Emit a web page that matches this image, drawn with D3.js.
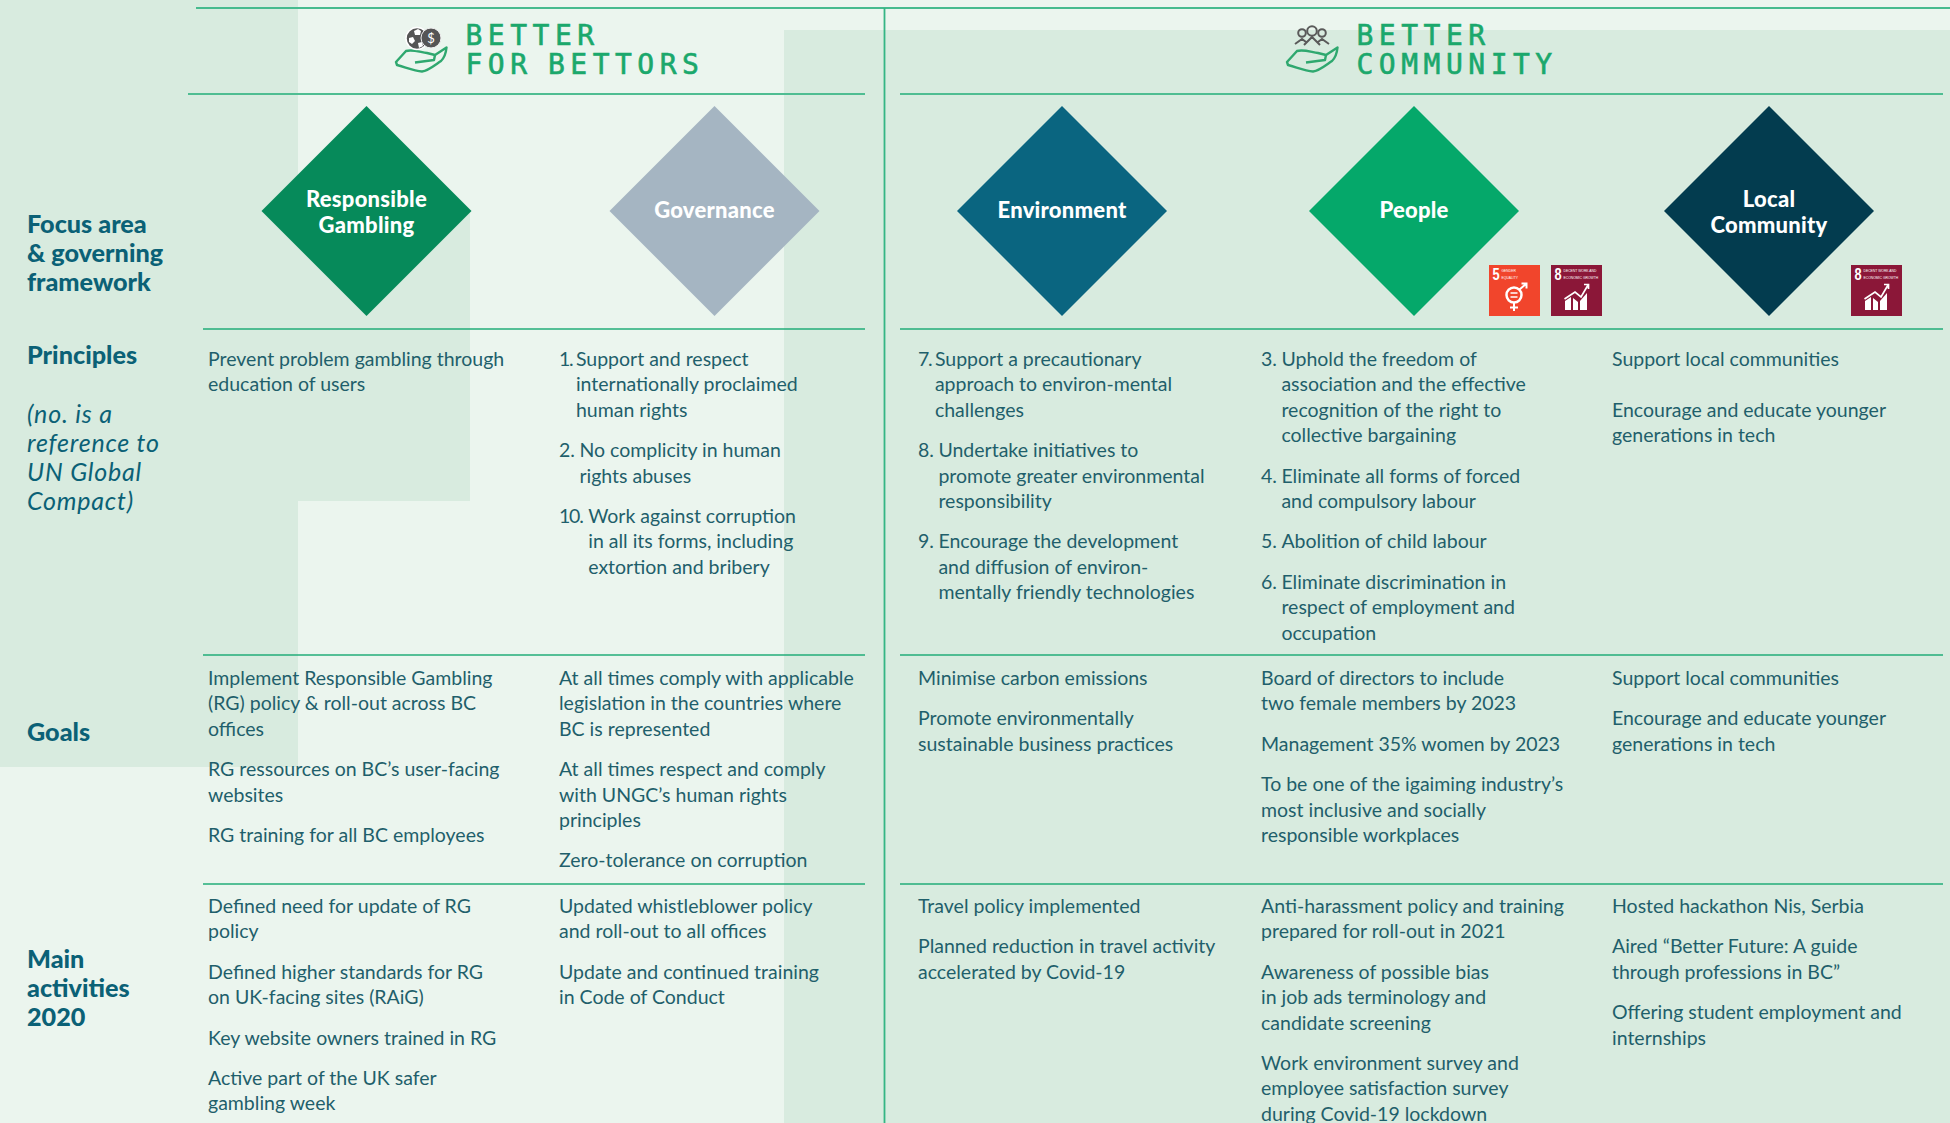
<!DOCTYPE html>
<html>
<head>
<meta charset="utf-8">
<script src="https://d3js.org/d3.v7.min.js"></script>
<style>
html, body { margin: 0; padding: 0; background: #ebf5ee; overflow: hidden; }
svg { display: block; }
text { font-family: Lato, "Open Sans", sans-serif; }
.cell { font-size: 19.5px; fill: #1f5f6b; }
.rowhead { font-size: 25.2px; font-weight: 900; fill: #0b6176; }
.rownote { font-size: 25px; font-style: italic; fill: #0b6176; letter-spacing: 0.8px; }
.dtext { font-size: 22px; font-weight: 900; fill: #fff; text-anchor: middle; letter-spacing: 0.25px; }
.title { font-family: "DejaVu Sans Mono", monospace; font-size: 28px; fill: #1ba86c; stroke: #1ba86c; stroke-width: 0.6px; letter-spacing: 5.5px; word-spacing: -7px; }
.sdg { font-family: "Liberation Sans", sans-serif; fill: #fff; }
</style>
</head>
<body>
<svg id="chart" width="1950" height="1123"></svg>
<script>
const columns = ["Responsible Gambling", "Governance", "Environment", "People", "Local Community"];
const focusColors = ["#068a5a", "#a5b5c2", "#0a6580", "#05a86a", "#033c4f"];

const rowHeads = [
  ["Focus area", "& governing", "framework"],
  ["Principles"],
  ["Goals"],
  ["Main", "activities", "2020"]
];
const rowNote = ["(no. is a", "reference to", "UN Global", "Compact)"];

// each cell: list of paragraphs, each paragraph a list of lines
const principles = [
  [["Prevent problem gambling through", "education of users"]],
  [["1. Support and respect", "internationally proclaimed", "human rights"],
   ["2. No complicity in human", "rights abuses"],
   ["10. Work against corruption", "in all its forms, including", "extortion and bribery"]],
  [["7. Support a precautionary", "approach to environ-mental", "challenges"],
   ["8. Undertake initiatives to", "promote greater environmental", "responsibility"],
   ["9. Encourage the development", "and diffusion of environ-", "mentally friendly technologies"]],
  [["3. Uphold the freedom of", "association and the effective", "recognition of the right to", "collective bargaining"],
   ["4. Eliminate all forms of forced", "and compulsory labour"],
   ["5. Abolition of child labour"],
   ["6. Eliminate discrimination in", "respect of employment and", "occupation"]],
  [["Support local communities", "", "Encourage and educate younger", "generations in tech"]]
];
const goals = [
  [["Implement Responsible Gambling", "(RG) policy & roll-out across BC", "offices"],
   ["RG ressources on BC\u2019s user-facing", "websites"],
   ["RG training for all BC employees"]],
  [["At all times comply with applicable", "legislation in the countries where", "BC is represented"],
   ["At all times respect and comply", "with UNGC\u2019s human rights", "principles"],
   ["Zero-tolerance on corruption"]],
  [["Minimise carbon emissions"],
   ["Promote environmentally", "sustainable business practices"]],
  [["Board of directors to include", "two female members by 2023"],
   ["Management 35% women by 2023"],
   ["To be one of the igaiming industry\u2019s", "most inclusive and socially", "responsible workplaces"]],
  [["Support local communities"],
   ["Encourage and educate younger", "generations in tech"]]
];
const activities = [
  [["Defined need for update of RG", "policy"],
   ["Defined higher standards for RG", "on UK-facing sites (RAiG)"],
   ["Key website owners trained in RG"],
   ["Active part of the UK safer", "gambling week"]],
  [["Updated whistleblower policy", "and roll-out to all offices"],
   ["Update and continued training", "in Code of Conduct"]],
  [["Travel policy implemented"],
   ["Planned reduction in travel activity", "accelerated by Covid-19"]],
  [["Anti-harassment policy and training", "prepared for roll-out in 2021"],
   ["Awareness of possible bias", "in job ads terminology and", "candidate screening"],
   ["Work environment survey and", "employee satisfaction survey", "during Covid-19 lockdown"]],
  [["Hosted hackathon Nis, Serbia"],
   ["Aired \u201cBetter Future: A guide", "through professions in BC\u201d"],
   ["Offering student employment and", "internships"]]
];

const svg = d3.select("#chart");
const dark = "#d8ebdf";

// background blocks
const bg = svg.append("g");
[[0, 0, 298, 767], [298, 211, 172, 290], [784, 30, 1166, 1093]].forEach(b => {
  bg.append("rect").attr("x", b[0]).attr("y", b[1]).attr("width", b[2]).attr("height", b[3]).attr("fill", dark);
});

// column layout
const colX = d3.scaleOrdinal().domain(columns).range([208, 559, 918, 1261, 1612]);
const diamondX = d3.scaleOrdinal().domain(columns).range([366.5, 714.5, 1062, 1414, 1769]);
const diamondFill = d3.scaleOrdinal().domain(columns).range(focusColors);

// rules
const rules = svg.append("g");
const hline = (x1, x2, y, color, w) => rules.append("line").attr("x1", x1).attr("x2", x2).attr("y1", y).attr("y2", y)
  .attr("stroke", color).attr("stroke-width", w);
hline(196, 1950, 8, "#46bb8e", 1.8);
[[188, 865], [900, 1943]].forEach(r => {
  hline(r[0], r[1], 94, "#4fbd92", 1.8);
});
[[203, 865], [900, 1943]].forEach(r => {
  [329, 655, 884].forEach(y => hline(r[0], r[1], y, "#22ad78", 1.4));
});
rules.append("line").attr("x1", 884.5).attr("x2", 884.5).attr("y1", 8).attr("y2", 1123)
  .attr("stroke", "#35b584").attr("stroke-width", 1.8);

// titles
function title(x, lines) {
  svg.append("g").selectAll("text").data(lines).join("text")
    .attr("class", "title").attr("x", x).attr("y", (d, i) => 45 + i * 29).text(d => d);
}
title(465.5, ["BETTER", "FOR BETTORS"]);
title(1356.5, ["BETTER", "COMMUNITY"]);

// hand icons
function hand(dx) {
  const g = svg.append("g").attr("transform", `translate(${dx},0)`)
    .attr("fill", "none").attr("stroke", "#2fa86f").attr("stroke-width", 2.4).attr("stroke-linejoin", "round");
  g.append("path").attr("d", "M396 62 L406 51 C412 49 420 52 427 53 L435 55 L446.5 47.5 C446 53 444 58 441 61 C435 65 428 71 422 71.5 C414 71 405 67 397 65 Z");
  g.append("path").attr("d", "M415 62.5 L434 60 L435 55");
}
hand(0); hand(891);

// coins
svg.append("circle").attr("cx", 417).attr("cy", 38.5).attr("r", 11).attr("fill", "#555").attr("stroke", "#fff").attr("stroke-width", 1.5);
svg.append("g").attr("fill", "#fff").selectAll("path")
  .data(["M414 31 l4 -2 l3 2 l-1 4 l-5 0 Z", "M409 38 l4 -1 l2 4 l-3 3 l-3 -2 Z", "M418 43 l4 -1 l1 4 l-4 2 Z"])
  .join("path").attr("d", d => d);
svg.append("circle").attr("cx", 431).attr("cy", 38).attr("r", 10).attr("fill", "#555").attr("stroke", "#eee").attr("stroke-width", 1);
svg.append("text").attr("x", 431).attr("y", 43).attr("text-anchor", "middle").attr("font-size", 13).attr("fill", "#fff").text("$");

// people
const people = svg.append("g").attr("fill", "none").attr("stroke", "#5a5a5a").attr("stroke-width", 2);
[[1302, 33, 3.8], [1322, 33, 3.8], [1312, 31, 4.8]].forEach(p => {
  people.append("circle").attr("cx", p[0]).attr("cy", p[1]).attr("r", p[2]);
});
people.append("path").attr("d", "M1295 44 L1302 39 L1306 42 M1329 44 L1322 39 L1318 42 M1304 45 L1312 37 L1320 45");

// diamonds
const dg = svg.append("g").selectAll("g").data(columns).join("g")
  .attr("transform", d => `translate(${diamondX(d)},211)`);
dg.append("path").attr("d", "M0 -105 L105 0 L0 105 L-105 0 Z").attr("fill", d => diamondFill(d));
dg.append("text").attr("class", "dtext").attr("y", 7).each(function (d) {
  const parts = d.split(" ");
  d3.select(this).selectAll("tspan").data(parts).join("tspan")
    .attr("x", 0).attr("y", (p, i) => parts.length === 1 ? 7 : -4 + i * 26).text(p => p);
});

// SDG tiles
function tile(x, color, num, label) {
  const g = svg.append("g").attr("transform", `translate(${x},265)`);
  g.append("rect").attr("width", 51).attr("height", 51).attr("fill", color);
  g.append("text").attr("class", "sdg").attr("transform", "translate(3.5,15) scale(0.8,1)")
    .attr("font-size", 16).attr("font-weight", 700).text(num);
  g.append("g").attr("transform", "translate(12.5,0) scale(0.8,1)")
    .selectAll("text").data(label).join("text").attr("class", "sdg")
    .attr("y", (d, i) => 7.5 + i * 6.4).attr("font-size", 4.2).text(d => d);
  return g;
}
const t5 = tile(1489, "#f1452c", "5", ["GENDER", "EQUALITY"]);
t5.append("circle").attr("cx", 25).attr("cy", 30).attr("r", 7.5).attr("fill", "none").attr("stroke", "#fff").attr("stroke-width", 2.5);
t5.append("path").attr("d", "M25 38 V46 M21 42.5 H29 M30.5 24.5 L37 19 M32.5 18.5 H37.5 V23.5").attr("fill", "none").attr("stroke", "#fff").attr("stroke-width", 2);
t5.append("path").attr("d", "M21.5 28 H28.5 M21.5 32 H28.5").attr("stroke", "#fff").attr("stroke-width", 1.6);
[1551, 1851].forEach(x => {
  const t8 = tile(x, "#8b1738", "8", ["DECENT WORK AND", "ECONOMIC GROWTH"]);
  t8.append("path").attr("d", "M14 45 V36 L20 32 V45 Z M22 45 V33 L27 37 V45 Z M29 45 V36 L36 28 V45 Z").attr("fill", "#fff");
  t8.append("path").attr("d", "M13.5 34 L24 27 L30 32 L37 20 M33 19.5 H37.5 V24").attr("fill", "none").attr("stroke", "#fff").attr("stroke-width", 1.7);
});

// row heads
const headY = [232.5, 363.5, 740.5, 967.5];
const headG = svg.append("g");
rowHeads.forEach((lines, r) => {
  headG.append("g").selectAll("text").data(lines).join("text")
    .attr("class", "rowhead").attr("x", 27).attr("y", (d, i) => headY[r] + i * 29.4).text(d => d);
});
headG.append("g").selectAll("text").data(rowNote).join("text")
  .attr("class", "rownote").attr("x", 27).attr("y", (d, i) => 423 + i * 29).text(d => d);

// cell text, paragraphs stacked by line height plus gap
const lineH = 25.4, paraGap = 15;
const measure = svg.append("text").attr("class", "cell").attr("opacity", 0);
function textWidth(s) {
  measure.text(s.replace(" ", "\u00a0"));
  return measure.node().getComputedTextLength();
}
// the original type has narrow 1 and 7, so those prefixes hang less
function hangIndent(prefix) {
  const w = textWidth(prefix);
  if (prefix.length === 4) return w - 3;
  return /[17]/.test(prefix) ? w - 4 : w - 0.5;
}
function drawRow(cells, top) {
  columns.forEach((c, ci) => {
    let y = top;
    cells[ci].forEach(par => {
      const m = par[0].match(/^\d+\. /);
      const ind = m ? hangIndent(m[0]) : 0;
      par.forEach((line, li) => {
        if (m && li === 0) {
          svg.append("text").attr("class", "cell").attr("x", colX(c)).attr("y", y)
            .attr("letter-spacing", /[17]/.test(m[0]) ? "-1.2px" : "0px").text(m[0].trim());
          svg.append("text").attr("class", "cell").attr("x", colX(c) + ind).attr("y", y).text(line.slice(m[0].length));
        } else {
          svg.append("text").attr("class", "cell").attr("x", colX(c) + ind).attr("y", y).text(line);
        }
        y += lineH;
      });
      y += paraGap;
    });
  });
}
drawRow(principles, 366);
drawRow(goals, 685);
drawRow(activities, 913);
measure.remove();
</script>
</body>
</html>
